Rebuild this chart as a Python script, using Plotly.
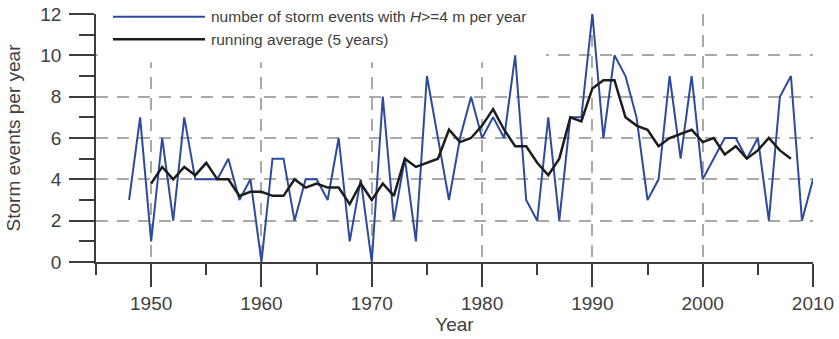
import plotly.graph_objects as go

# ---- data ----
years = list(range(1948, 2011))
storm_events = [3, 7, 1, 6, 2, 7, 4, 4, 4, 5, 3, 4, 0, 5, 5, 2, 4, 4, 3, 6,
                1, 4, 0, 8, 2, 5, 1, 9, 6, 3, 6, 8, 6, 7, 6, 10, 3, 2, 7, 2,
                7, 7, 12, 6, 10, 9, 7, 3, 4, 9, 5, 9, 4, 5, 6, 6, 5, 6, 2, 8,
                9, 2, 4]

avg_years = list(range(1950, 2009))
running_avg = [3.8, 4.6, 4.0, 4.6, 4.2, 4.8, 4.0, 4.0, 3.2, 3.4,
               3.4, 3.2, 3.2, 4.0, 3.6, 3.8, 3.6, 3.6, 2.8, 3.8,
               3.0, 3.8, 3.2, 5.0, 4.6, 4.8, 5.0, 6.4, 5.8, 6.0,
               6.6, 7.4, 6.4, 5.6, 5.6, 4.8, 4.2, 5.0, 7.0, 6.8,
               8.4, 8.8, 8.8, 7.0, 6.6, 6.4, 5.6, 6.0, 6.2, 6.4,
               5.8, 6.0, 5.2, 5.6, 5.0, 5.4, 6.0, 5.4, 5.0]

x_ticks = [1950, 1960, 1970, 1980, 1990, 2000, 2010]
y_ticks = [0, 2, 4, 6, 8, 10, 12]
legend_labels = ["number of storm events with <i>H</i>&gt;=4 m per year",
                 "running average (5 years)"]
x_title = "Year"
y_title = "Storm events per year"

# ---- styling ----
FONT = "Liberation Sans, Arial, sans-serif"
BLUE = "#2d4b9c"
BLACK = "#1c1c1c"
GRID = "#a9a9a9"
AXIS = "#3c3c3c"
TEXT = "#404040"

fig = go.Figure()
fig.add_trace(go.Scatter(x=years, y=storm_events, mode="lines",
                         line=dict(color=BLUE, width=2),
                         name=legend_labels[0], showlegend=False))
fig.add_trace(go.Scatter(x=avg_years, y=running_avg, mode="lines",
                         line=dict(color=BLACK, width=2.5),
                         name=legend_labels[1], showlegend=False))

fig.update_layout(
    width=839, height=339,
    margin=dict(l=96, r=26, t=14, b=77),
    paper_bgcolor="white", plot_bgcolor="white",
    font=dict(family=FONT, size=19, color=TEXT),
    showlegend=False,
)

fig.update_xaxes(
    range=[1945, 2010], tickmode="array", tickvals=x_ticks,
    ticks="outside", ticklen=23, tickwidth=1.5, tickcolor=AXIS,
    showline=True, linecolor=AXIS, linewidth=1.5,
    showgrid=True, gridcolor=GRID, gridwidth=2, griddash="12px,9px",
    zeroline=False, ticklabelstandoff=0, automargin=False,
    ticklabeloverflow="allow",
    minor=dict(dtick=5, tick0=1945, ticks="outside", ticklen=11,
               tickwidth=1.5, tickcolor=AXIS, showgrid=False),
    title=dict(text=x_title, standoff=2, font=dict(size=19, color=TEXT)),
)
fig.update_yaxes(
    range=[0, 12], tickmode="array", tickvals=y_ticks,
    ticks="outside", ticklen=25, tickwidth=1.5, tickcolor=AXIS,
    showline=True, linecolor=AXIS, linewidth=1.5,
    showgrid=True, gridcolor=GRID, gridwidth=2, griddash="12px,9px",
    zeroline=False, ticklabelstandoff=4, automargin=False,
    ticklabeloverflow="allow",
    minor=dict(dtick=1, tick0=0, ticks="outside", ticklen=15,
               tickwidth=1.5, tickcolor=AXIS, showgrid=False),
    title=dict(text=y_title, standoff=15, font=dict(size=19, color=TEXT)),
)

# ---- legend (drawn manually to match long line samples) ----
shapes = [
    dict(type="rect", xref="x", yref="y", layer="between",
         x0=1945.15, x1=1985.8, y0=9.66, y1=12.3,
         fillcolor="white", line=dict(width=0)),
    dict(type="line", xref="paper", yref="paper", layer="above",
         x0=0.0237, x1=0.152, y0=0.989, y1=0.989,
         line=dict(color=BLUE, width=2)),
    dict(type="line", xref="paper", yref="paper", layer="above",
         x0=0.0237, x1=0.152, y0=0.898, y1=0.898,
         line=dict(color=BLACK, width=2.5)),
]
annotations = [
    dict(xref="paper", yref="paper", x=0.158, y=0.989, xanchor="left",
         yanchor="middle", showarrow=False, text=legend_labels[0],
         font=dict(size=15.5, color=TEXT, family=FONT)),
    dict(xref="paper", yref="paper", x=0.158, y=0.898, xanchor="left",
         yanchor="middle", showarrow=False, text=legend_labels[1],
         font=dict(size=15.5, color=TEXT, family=FONT)),
]
fig.update_layout(shapes=shapes, annotations=annotations)

# remove the browser's default 8px body margin so the figure fills the window
fig.write_html("out.html",
               config={"displayModeBar": False},
               post_script="document.body.style.margin='0px';")
